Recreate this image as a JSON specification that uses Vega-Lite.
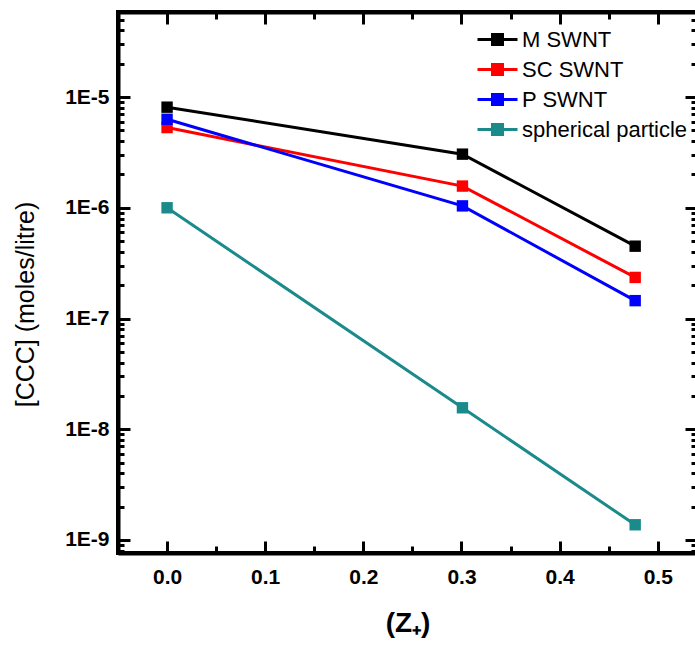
{
  "$schema": "https://vega.github.io/schema/vega-lite/v6.json",
  "width": 579,
  "height": 541,
  "autosize": {"type": "none"},
  "padding": {"left": 118, "top": 12, "right": 0, "bottom": 93},
  "background": "white",
  "config": {
    "view": {"stroke": "black", "strokeWidth": 4},
    "axis": {
      "grid": false,
      "domainColor": "black",
      "domainWidth": 4,
      "tickColor": "black",
      "tickWidth": 3,
      "labelFont": "Liberation Sans, Arial",
      "labelFontWeight": "bold",
      "labelFontSize": 21,
      "labelColor": "black",
      "titleColor": "black",
      "labelOverlap": false,
      "labelFlush": false
    }
  },
  "datasets": {
    "ccc": [
      {"series": "M SWNT", "z": 0, "ccc": 8.1e-6},
      {"series": "M SWNT", "z": 0.301, "ccc": 3.05e-6},
      {"series": "M SWNT", "z": 0.477, "ccc": 4.5e-7},
      {"series": "SC SWNT", "z": 0, "ccc": 5.3e-6},
      {"series": "SC SWNT", "z": 0.301, "ccc": 1.57e-6},
      {"series": "SC SWNT", "z": 0.477, "ccc": 2.35e-7},
      {"series": "P SWNT", "z": 0, "ccc": 6.3e-6},
      {"series": "P SWNT", "z": 0.301, "ccc": 1.04e-6},
      {"series": "P SWNT", "z": 0.477, "ccc": 1.45e-7},
      {"series": "spherical particle", "z": 0, "ccc": 1e-6},
      {"series": "spherical particle", "z": 0.301, "ccc": 1.5625e-8},
      {"series": "spherical particle", "z": 0.477, "ccc": 1.372e-9}
    ]
  },
  "data": {"name": "ccc"},
  "layer": [
    {
      "mark": {"type": "line", "strokeWidth": 3},
      "encoding": {
        "x": {
          "field": "z", "type": "quantitative",
          "scale": {"domain": [-0.05, 0.54], "nice": false, "zero": false},
          "axis": {
            "orient": "bottom",
            "values": [0, 0.1, 0.2, 0.3, 0.4, 0.5],
            "format": ".1f",
            "tickSize": -12,
            "labelPadding": 25,
            "title": "(Z₊)",
            "titleFont": "Liberation Sans, Arial",
            "titleFontWeight": "bold",
            "titleFontSize": 28,
            "titlePadding": 22
          }
        },
        "y": {
          "field": "ccc", "type": "quantitative",
          "scale": {"type": "log", "domain": [7.63e-10, 5.86e-5], "nice": false},
          "axis": {
            "orient": "left",
            "values": [1e-9, 1e-8, 1e-7, 1e-6, 1e-5],
            "labelExpr": "'1E' + round(log(datum.value)/LN10)",
            "tickSize": -12,
            "labelPadding": 21,
            "title": "[CCC] (moles/litre)",
            "titleFont": "Liberation Sans, Arial",
            "titleFontWeight": "normal",
            "titleFontSize": 25,
            "titleX": -80,
            "titleY": 292
          }
        },
        "color": {
          "field": "series", "type": "nominal",
          "scale": {"domain": ["M SWNT", "SC SWNT", "P SWNT", "spherical particle"], "range": ["#000000", "#ff0000", "#0000ff", "#1a8a8a"]},
          "legend": {
            "orient": "none",
            "legendX": 368,
            "legendY": 16,
            "title": null,
            "padding": 0,
            "symbolType": "M-2,0H-0.5M0.5,0H2M-0.5,-0.5H0.5V0.5H-0.5Z",
            "symbolSize": 400,
            "symbolStrokeWidth": 3,
            "labelFont": "Liberation Sans, Arial",
            "labelFontSize": 22,
            "labelColor": "black",
            "labelOffset": 13,
            "rowPadding": 7,
            "labelLimit": 300,
            "encode": {
              "symbols": {
                "update": {
                  "fill": {"scale": "color", "field": "value"},
                  "stroke": {"scale": "color", "field": "value"},
                  "strokeWidth": {"value": 3},
                  "opacity": {"value": 1}
                }
              }
            }
          }
        }
      }
    },
    {
      "mark": {"type": "square", "filled": true, "size": 130, "opacity": 1},
      "encoding": {
        "x": {
          "field": "z", "type": "quantitative",
          "axis": {"orient": "top", "values": [0, 0.1, 0.2, 0.3, 0.4, 0.5], "labels": false, "title": null, "tickSize": -12}
        },
        "y": {
          "field": "ccc", "type": "quantitative",
          "axis": {"orient": "right", "values": [1e-9, 1e-8, 1e-7, 1e-6, 1e-5], "labels": false, "title": null, "tickSize": -12}
        },
        "color": {"field": "series", "type": "nominal"}
      }
    },
    {
      "mark": {"type": "point", "opacity": 0},
      "encoding": {
        "x": {
          "field": "z", "type": "quantitative",
          "axis": {"orient": "bottom", "values": [0.05, 0.15, 0.25, 0.35, 0.45], "labels": false, "title": null, "domain": false, "tickSize": -7}
        },
        "y": {
          "field": "ccc", "type": "quantitative",
          "axis": {"orient": "left", "values": [8e-10, 9e-10, 2e-9, 3e-9, 4e-9, 5e-9, 6e-9, 7e-9, 8e-9, 9e-9, 2e-8, 3e-8, 4e-8, 5e-8, 6e-8, 7e-8, 8e-8, 9e-8, 2e-7, 3e-7, 4e-7, 5e-7, 6e-7, 7e-7, 8e-7, 9e-7, 2e-6, 3e-6, 4e-6, 5e-6, 6e-6, 7e-6, 8e-6, 9e-6, 2e-5, 3e-5, 4e-5, 5e-5], "labels": false, "title": null, "domain": false, "tickSize": -6}
        }
      }
    },
    {
      "mark": {"type": "point", "opacity": 0},
      "encoding": {
        "x": {
          "field": "z", "type": "quantitative",
          "axis": {"orient": "top", "values": [0.05, 0.15, 0.25, 0.35, 0.45], "labels": false, "title": null, "domain": false, "tickSize": -7}
        },
        "y": {
          "field": "ccc", "type": "quantitative",
          "axis": {"orient": "right", "values": [8e-10, 9e-10, 2e-9, 3e-9, 4e-9, 5e-9, 6e-9, 7e-9, 8e-9, 9e-9, 2e-8, 3e-8, 4e-8, 5e-8, 6e-8, 7e-8, 8e-8, 9e-8, 2e-7, 3e-7, 4e-7, 5e-7, 6e-7, 7e-7, 8e-7, 9e-7, 2e-6, 3e-6, 4e-6, 5e-6, 6e-6, 7e-6, 8e-6, 9e-6, 2e-5, 3e-5, 4e-5, 5e-5], "labels": false, "title": null, "domain": false, "tickSize": -6}
        }
      }
    }
  ]
}
